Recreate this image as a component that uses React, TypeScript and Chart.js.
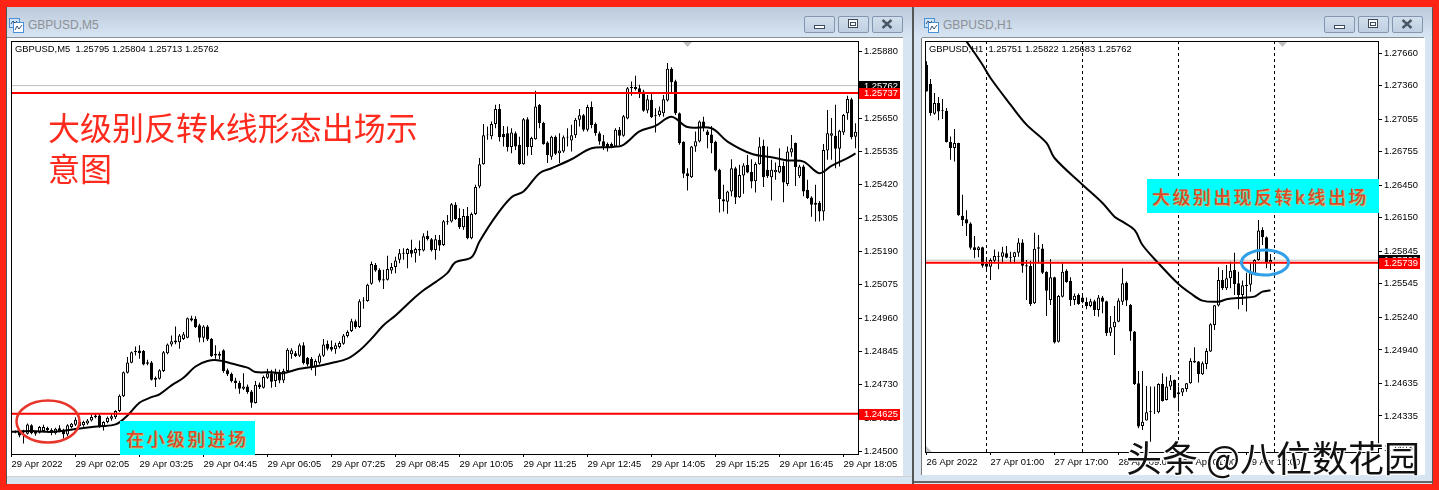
import React, { useEffect, useRef } from "react";
import { Chart, registerables } from "chart.js";

Chart.register(...registerables);

// Prices are quoted in points (1 point = 0.00001)
const m5Open = [
124570,124567,124567,124567,124561,124590,124569,124564,124570,124581,
124575,124563,124580,124575,124558,124584,124592,124588,124590,124596,
124607,124624,124624,124584,124601,124613,124618,124639,124690,124771,
124806,124842,124848,124846,124808,124807,124747,124751,124777,124839,
124869,124876,124877,124888,124892,124959,124958,124935,124892,124931,
124888,124837,124830,124849,124780,124768,124745,124737,124716,124724,
124707,124667,124731,124720,124754,124770,124743,124770,124745,124777,
124835,124839,124830,124866,124823,124820,124793,124806,124830,124871,
124860,124852,124860,124871,124898,124915,124949,124929,125018,125019,
125078,125143,125126,125090,125092,125124,125136,125161,125182,125181,
125195,125184,125193,125193,125244,125232,125195,125230,125212,125291,
125293,125351,125305,125273,125313,125235,125319,125414,125491,125591,
125587,125630,125681,125595,125598,125550,125598,125558,125491,125646,
125550,125577,125696,125633,125566,125517,125586,125529,125535,125583,
125573,125591,125644,125660,125610,125688,125630,125598,125570,125561,
125561,125552,125610,125589,125649,125753,125750,125753,125742,125676,
125713,125660,125661,125667,125711,125820,125777,125667,125568,125460,
125446,125552,125569,125638,125604,125593,125568,125472,125370,125361,
125397,125477,125377,125452,125489,125465,125432,125491,125554,125472,
125446,125463,125462,125485,125423,125531,125564,125449,125483,125402,
125376,125358,125358,125328,125538,125589,125589,125544,125600,125667,
125715,125586];
const m5High = [
124572,124572,124570,124575,124596,124594,124572,124588,124592,124585,
124580,124582,124590,124578,124594,124598,124618,124605,124606,124612,
124626,124632,124632,124604,124620,124630,124642,124696,124776,124826,
124845,124862,124866,124850,124816,124812,124758,124783,124846,124872,
124900,124931,124905,124912,124962,124968,124966,124940,124935,124936,
124891,124866,124845,124852,124786,124772,124754,124744,124770,124731,
124712,124743,124738,124762,124785,124782,124785,124782,124785,124856,
124856,124846,124872,124877,124826,124826,124818,124838,124888,124883,
124883,124875,124880,124905,124918,124958,124955,125025,125032,125078,
125155,125150,125132,125127,125175,125150,125172,125198,125201,125201,
125230,125203,125228,125253,125261,125236,125247,125247,125298,125316,
125357,125360,125339,125336,125343,125324,125420,125512,125630,125621,
125638,125696,125699,125623,125621,125615,125604,125586,125650,125653,
125586,125744,125699,125637,125570,125589,125590,125598,125590,125615,
125627,125650,125681,125664,125696,125707,125635,125604,125592,125566,
125566,125615,125619,125661,125757,125776,125796,125765,125748,125730,
125734,125684,125690,125730,125840,125825,125782,125669,125570,125477,
125554,125604,125642,125655,125610,125623,125572,125475,125420,125399,
125508,125482,125489,125494,125523,125508,125498,125584,125575,125552,
125506,125497,125546,125500,125552,125592,125566,125489,125489,125437,
125380,125420,125364,125561,125678,125650,125696,125610,125664,125727,
125720,125632];
const m5Low = [
124564,124563,124549,124527,124558,124559,124554,124562,124566,124569,
124556,124558,124566,124544,124552,124580,124588,124584,124585,124592,
124603,124614,124582,124572,124597,124606,124612,124636,124688,124769,
124804,124831,124820,124797,124797,124745,124722,124748,124774,124835,
124862,124870,124854,124884,124890,124948,124926,124877,124877,124881,
124826,124820,124818,124771,124760,124738,124716,124699,124712,124699,
124651,124665,124715,124717,124750,124720,124722,124735,124736,124772,
124820,124826,124826,124800,124793,124780,124761,124800,124826,124848,
124845,124837,124855,124868,124893,124912,124923,124926,124992,125016,
125075,125120,125084,125060,125090,125113,125115,125149,125161,125132,
125170,125152,125175,125190,125228,125190,125161,125192,125209,125282,
125290,125298,125267,125265,125232,125232,125316,125408,125489,125575,
125577,125615,125569,125552,125535,125529,125540,125488,125489,125520,
125523,125575,125615,125558,125495,125506,125523,125495,125530,125552,
125535,125581,125621,125604,125604,125615,125589,125558,125540,125535,
125546,125550,125557,125586,125646,125727,125745,125719,125672,125667,
125650,125600,125655,125655,125707,125736,125661,125558,125443,125400,
125443,125534,125566,125604,125546,125529,125466,125324,125328,125320,
125380,125354,125374,125389,125460,125408,125393,125489,125412,125443,
125366,125437,125460,125360,125416,125517,125416,125443,125380,125371,
125310,125293,125293,125297,125506,125506,125477,125483,125592,125644,
125577,125546];
const m5Close = [
124567,124568,124555,124572,124593,124563,124561,124584,124584,124573,
124564,124578,124570,124559,124590,124595,124609,124601,124601,124607,
124619,124618,124586,124601,124616,124621,124639,124692,124773,124807,
124842,124846,124839,124800,124802,124747,124754,124780,124842,124869,
124880,124883,124900,124904,124959,124952,124929,124892,124931,124886,
124829,124831,124837,124777,124766,124743,124736,124716,124724,124705,
124668,124730,124721,124757,124770,124740,124770,124745,124777,124851,
124849,124829,124866,124805,124800,124789,124812,124831,124869,124854,
124851,124866,124874,124900,124912,124949,124929,125018,125021,125075,
125147,125124,125090,125094,125129,125136,125159,125184,125185,125198,
125182,125198,125198,125242,125232,125195,125232,125210,125294,125294,
125353,125301,125273,125312,125235,125319,125412,125491,125591,125593,
125630,125681,125584,125584,125550,125600,125552,125491,125646,125550,
125581,125690,125633,125561,125523,125586,125527,125538,125584,125586,
125591,125644,125660,125610,125688,125626,125598,125569,125552,125550,
125552,125610,125589,125656,125753,125757,125757,125738,125675,125715,
125653,125656,125676,125715,125820,125774,125667,125563,125458,125449,
125552,125570,125638,125615,125592,125563,125469,125371,125362,125397,
125477,125376,125454,125486,125462,125431,125492,125552,125446,125449,
125472,125472,125485,125428,125535,125546,125481,125483,125397,125374,
125351,125351,125328,125540,125598,125598,125544,125606,125661,125716,
125584,125603];
const m5MaBars = [0,5,10,14,18,22,26,29,32,35,37,40,43,46,49,52,55,59,61,65,68,72,76,80,84,87,90,93,96,100,103,106,109,111,115,117,121,125,128,132,135,140,145,150,153,157,161,165,169,175,179,185,190,194,198,202,205,209,211];
const m5MaValues = [124568,124570,124567,124573,124581,124587,124593,124624,124668,124687,124697,124728,124754,124793,124812,124814,124803,124789,124774,124773,124770,124785,124793,124805,124820,124848,124889,124935,124969,125021,125056,125084,125116,125153,125170,125224,125310,125377,125397,125460,125477,125508,125546,125550,125558,125604,125623,125655,125619,125615,125569,125527,125515,125504,125500,125460,125485,125512,125528];
const m5TickBars = [0,16,32,48,64,80,96,112,128,144,160,176,192,208];
const m5TickLabels = ["29 Apr 2022","29 Apr 02:05","29 Apr 03:25","29 Apr 04:45","29 Apr 06:05","29 Apr 07:25","29 Apr 08:45","29 Apr 10:05","29 Apr 11:25","29 Apr 12:45","29 Apr 14:05","29 Apr 15:25","29 Apr 16:45","29 Apr 18:05"];
const m5PriceTicks = [1.2588,1.2565,1.25535,1.2542,1.25305,1.2519,1.25075,1.2496,1.24845,1.2473,1.24615,1.245];
const m5Levels = [1.25737,1.2463];
const m5LevelLabels = ["1.25737","1.24625"];
const m5LastPrice = 1.25762;

const h1Open = [
127553,127379,127104,127202,127135,127131,126844,126789,126835,126170,
126136,126099,125880,125855,125880,125727,125702,125757,125794,125794,
125825,125788,125788,125831,125925,125715,125709,125367,125880,125870,
125654,125397,125605,125015,125428,125666,125571,125397,125443,125421,
125379,125342,125385,125306,125421,125385,125098,125147,125199,125382,
125556,125352,125108,124634,124244,124293,124372,124375,124369,124628,
124482,124604,124665,124534,124549,124583,124634,124824,124833,124717,
124811,124925,125169,125346,125581,125505,125596,125672,125550,125443,
125526,125538,125636,125764,126039,125972,125740];
const h1High = [
127584,127421,127293,127256,127238,127156,126896,126963,126838,126362,
126219,126110,125983,125890,125885,125788,125779,125861,125840,125886,
125892,125840,125840,125962,125953,125763,125757,126014,125992,125910,
125660,125770,125610,125443,125733,125678,125605,125458,125458,125434,
125421,125409,125400,125443,125434,125390,125251,125343,125413,125688,
125566,125360,125114,124747,124747,124610,124604,124604,124634,124726,
124695,124711,124670,124604,124592,124638,124863,124964,124838,124833,
124955,125184,125352,125697,125672,125718,125749,125831,125657,125575,
125648,125733,125770,126130,126063,125978,125819];
const h1Low = [
127308,127086,127095,127043,127055,126841,126683,126667,126170,126075,
125983,125861,125779,125788,125693,125657,125580,125733,125678,125733,
125779,125733,125733,125794,125647,125397,125342,125360,125733,125635,
125251,125351,125000,125009,125421,125556,125342,125351,125354,125367,
125312,125330,125251,125245,125275,125067,125067,124894,125193,125352,
125343,125025,124619,124222,124207,124293,124100,124354,124360,124467,
124476,124573,124497,124375,124518,124558,124630,124822,124641,124711,
124763,124920,125123,125337,125489,125489,125505,125443,125312,125352,
125291,125474,125627,125758,125901,125688,125672];
const h1Close = [
127308,127110,127202,127125,127128,126844,126789,126835,126173,126130,
126099,125876,125855,125880,125712,125702,125763,125800,125800,125834,
125785,125782,125834,125925,125712,125705,125360,125867,125867,125647,
125483,125605,125009,125434,125657,125562,125397,125437,125360,125379,
125342,125385,125306,125421,125382,125092,125147,125199,125392,125550,
125392,125108,124628,124238,124283,124369,124378,124378,124628,124473,
124604,124659,124503,124552,124589,124634,124839,124842,124717,124818,
124931,125175,125349,125581,125505,125596,125666,125544,125443,125532,
125538,125642,125764,126033,125972,125734,125764];
const h1MaBars = [10,14,16,21,25,30,32,39,44,47,49,52,54,58,63,66,69,73,75,79,82,84,86];
const h1MaValues = [127767,127553,127431,127187,127004,126836,126698,126454,126286,126160,126115,126039,125901,125734,125544,125459,125392,125382,125404,125419,125428,125474,125486];
const h1DayBars = [15,39,63,87];
const h1TickBars = [0,16,32,48,64,80];
const h1TickLabels = ["26 Apr 2022","27 Apr 01:00","27 Apr 17:00","28 Apr 09:00","29 Apr 01:00","29 Apr 17:00"];
const h1PriceTicks = [1.2766,1.2736,1.27055,1.26755,1.2645,1.2615,1.25845,1.25545,1.2524,1.2494,1.24635,1.24335,1.24035];
const h1Levels = [1.25739];
const h1LevelLabels = ["1.25739"];
const h1LastPrice = 1.25762;

const AXIS_FONT = { family: "'Liberation Sans'", size: 9.4 };
const FONT_CSS = "9.4px 'Liberation Sans'";
const RED = "#ff0000";
const pts = (a: number) => a / 1e5;

type Cfg = {
  o: number[]; h: number[]; l: number[]; c: number[];
  maBars: number[]; maValues: number[];
  tickBars: number[]; tickLabels: string[]; priceTicks: number[];
  levels: number[]; levelLabels: string[]; last: number; days?: number[];
  xMin: number; xMax: number; yMin: number; yMax: number;
  padLeft: number; axisW: number; axisH: number;
  legend: string; markerBar: number; corner?: boolean;
};

function makeChart(canvas: HTMLCanvasElement, cfg: Cfg) {
  const hLine = (p: number, color: string, width: number, order: number) => ({
    type: "line",
    data: [{ x: cfg.xMin, y: p }, { x: cfg.xMax, y: p }],
    borderColor: color, borderWidth: width, pointRadius: 0, order,
  });
  const datasets: any[] = [
    ...(cfg.days || []).map((d) => ({
      type: "line",
      data: [{ x: d, y: cfg.yMin }, { x: d, y: cfg.yMax }],
      borderColor: "#000", borderWidth: 1, borderDash: [3, 3], pointRadius: 0, order: 5,
    })),
    hLine(cfg.last, "#bdbdbd", 1, 4),
    {
      type: "bar",
      data: cfg.l.map((low, i) => ({ x: i, y: [pts(low), pts(cfg.h[i])] })),
      backgroundColor: "#000", borderWidth: 0, barThickness: 1, grouped: false, inflateAmount: 0, order: 3,
    },
    {
      type: "bar",
      data: cfg.o.map((op, i) => ({ x: i, y: [pts(op), pts(cfg.c[i])] })),
      backgroundColor: cfg.o.map((op, i) => (cfg.c[i] >= op ? "#fff" : "#000")),
      borderColor: "#000", borderWidth: 1, borderSkipped: false, barThickness: 3, grouped: false, inflateAmount: 0, order: 2,
    },
    {
      type: "line",
      data: cfg.maBars.map((b, i) => ({ x: b, y: pts(cfg.maValues[i]) })),
      borderColor: "#000", borderWidth: 2, pointRadius: 0, tension: 0.35, order: 1,
    },
    ...cfg.levels.map((p) => hLine(p, RED, 2, 0)),
  ];

  const overlay = {
    id: "mt4Overlay",
    afterDraw(chart: any) {
      const { ctx, chartArea: a, scales } = chart;
      ctx.save();
      ctx.strokeStyle = "#000";
      ctx.lineWidth = 1;
      ctx.strokeRect(a.left + 0.5, a.top + 0.5, a.right - a.left, a.bottom - a.top);
      const mx = scales.x.getPixelForValue(cfg.markerBar);
      ctx.fillStyle = "#c0c0c0";
      ctx.beginPath();
      ctx.moveTo(mx - 4.5, a.top + 1);
      ctx.lineTo(mx + 4.5, a.top + 1);
      ctx.lineTo(mx, a.top + 6);
      ctx.fill();
      if (cfg.corner) {
        ctx.beginPath();
        ctx.moveTo(a.left + 1, a.bottom);
        ctx.lineTo(a.left + 7, a.bottom);
        ctx.lineTo(a.left + 1, a.bottom - 6);
        ctx.fill();
      }
      ctx.font = FONT_CSS;
      ctx.textBaseline = "middle";
      ctx.textAlign = "left";
      ctx.fillStyle = "#000";
      ctx.fillText(cfg.legend, a.left + 4, a.top + 8.5);
      const tag = (p: number, text: string, bg: string) => {
        const y = Math.round(scales.y.getPixelForValue(p));
        ctx.fillStyle = bg;
        ctx.fillRect(a.right + 1, y - 5, 41, 11);
        ctx.fillStyle = "#fff";
        ctx.fillText(text, a.right + 6, y + 0.5);
      };
      tag(cfg.last, cfg.last.toFixed(5), "#000");
      cfg.levels.forEach((p, i) => tag(p, cfg.levelLabels[i], RED));
      ctx.restore();
    },
  };

  return new Chart(canvas, {
    type: "bar",
    data: { datasets },
    plugins: [overlay],
    options: {
      animation: false,
      responsive: false,
      devicePixelRatio: 1,
      layout: { padding: { left: cfg.padLeft, top: 3, right: 0, bottom: 0 } },
      plugins: { legend: { display: false }, tooltip: { enabled: false } },
      scales: {
        x: {
          type: "linear", offset: false, min: cfg.xMin, max: cfg.xMax,
          afterBuildTicks: (s: any) => { s.ticks = cfg.tickBars.map((value) => ({ value })); },
          afterFit: (s: any) => { s.height = cfg.axisH; s.paddingLeft = 0; s.paddingRight = 0; },
          grid: { display: true, offset: false, drawOnChartArea: false, drawTicks: true, tickLength: 3, tickColor: "#000" },
          border: { color: "#000" },
          ticks: {
            autoSkip: false, maxRotation: 0, minRotation: 0, align: "start", padding: 2,
            color: "#000", font: AXIS_FONT,
            callback: (_v: any, i: number) => cfg.tickLabels[i],
          },
        },
        y: {
          type: "linear", position: "right", min: cfg.yMin, max: cfg.yMax,
          afterBuildTicks: (s: any) => { s.ticks = cfg.priceTicks.map((value) => ({ value })); },
          afterFit: (s: any) => { s.width = cfg.axisW; s.paddingTop = 0; s.paddingBottom = 0; },
          grid: { display: true, drawOnChartArea: false, drawTicks: true, tickLength: 4, tickColor: "#000" },
          border: { color: "#000" },
          ticks: {
            autoSkip: false, padding: 2, color: "#000", font: AXIS_FONT,
            callback: (v: any) => Number(v).toFixed(5),
          },
        },
      },
    } as any,
  } as any);
}

const Btn = ({ left, kind }: { left: number; kind: "min" | "max" | "close" }) => (
  <div style={{ position: "absolute", left, top: 16, width: 31, height: 17, boxSizing: "border-box", border: "1px solid #8497b0", borderRadius: 2, background: "linear-gradient(#d2deea,#bfcfe2)" }}>
    <svg width="29" height="15" style={{ display: "block" }}>
      {kind === "min" && <rect x="9.5" y="8.5" width="10" height="3" fill="#fff" stroke="#3c4a5c" />}
      {kind === "max" && <g><rect x="9.5" y="2.5" width="9" height="8" fill="#fff" stroke="#3c4a5c" /><rect x="11.5" y="5.5" width="5" height="3" fill="none" stroke="#3c4a5c" /></g>}
      {kind === "close" && <path d="M9.5 3 L18.5 11 M18.5 3 L9.5 11" stroke="#4a5868" strokeWidth="2.4" />}
    </svg>
  </div>
);

const Icon = ({ left }: { left: number }) => (
  <svg width="15" height="15" style={{ position: "absolute", left, top: 18 }}>
    <rect x="0.5" y="0.5" width="10" height="9" fill="#cfe3f7" stroke="#4a90d9" />
    <rect x="4.5" y="4.5" width="10" height="10" fill="#fff" stroke="#4a90d9" />
    <path d="M6 12 L8 8 L10 11 L13 7" fill="none" stroke="#33557a" />
    <path d="M2 6 L4 3 L6 5 L8 3" fill="none" stroke="#33557a" />
  </svg>
);

const abs = (left: number, top: number, width: number, height: number, extra: any = {}) => ({ position: "absolute", left, top, width, height, ...extra } as React.CSSProperties);
const TITLE = "linear-gradient(#bbc9db,#d7e5f3)";
const CJK = "'Noto Sans CJK SC'";
const labelText: React.CSSProperties = { color: "#dc4a2a", fontFamily: CJK, fontWeight: 500, fontSize: 18, letterSpacing: 2.4, whiteSpace: "nowrap", textShadow: "1px 1px 1px #d8c070", lineHeight: "34px" };

export default function App() {
  const leftRef = useRef<HTMLCanvasElement>(null);
  const rightRef = useRef<HTMLCanvasElement>(null);
  useEffect(() => {
    const m5 = makeChart(leftRef.current!, {
      o: m5Open, h: m5High, l: m5Low, c: m5Close, maBars: m5MaBars, maValues: m5MaValues,
      tickBars: m5TickBars, tickLabels: m5TickLabels, priceTicks: m5PriceTicks,
      levels: m5Levels, levelLabels: m5LevelLabels, last: m5LastPrice,
      xMin: -0.125, xMax: 211.625, yMin: 1.24491, yMax: 1.25916,
      padLeft: 4, axisW: 45, axisH: 22,
      legend: "GBPUSD,M5  1.25795 1.25804 1.25713 1.25762", markerBar: 169,
    });
    const h1 = makeChart(rightRef.current!, {
      o: h1Open, h: h1High, l: h1Low, c: h1Close, maBars: h1MaBars, maValues: h1MaValues,
      tickBars: h1TickBars, tickLabels: h1TickLabels, priceTicks: h1PriceTicks,
      levels: h1Levels, levelLabels: h1LevelLabels, last: h1LastPrice, days: h1DayBars,
      xMin: -0.375, xMax: 112.875, yMin: 1.24005, yMax: 1.2777,
      padLeft: 4, axisW: 47, axisH: 23,
      legend: "GBPUSD,H1  1.25751 1.25822 1.25683 1.25762", markerBar: 89, corner: true,
    });
    return () => { m5.destroy(); h1.destroy(); };
  }, []);

  return (
    <div style={abs(0, 0, 1439, 490, { background: "#ff2415", overflow: "hidden" })}>
      <style>{"html,body{margin:0;padding:0;overflow:hidden}"}</style>

      {/* left window */}
      <div style={abs(6, 7, 907, 477, { background: "#d7e4f2", borderLeft: "1px solid #555", boxSizing: "border-box" })} />
      <div style={abs(7, 7, 905, 30, { background: TITLE })} />
      <div style={abs(7, 37, 896, 1, { background: "#8a8f96" })} />
      <div style={abs(7, 38, 896, 438, { background: "#fff" })} />
      <div style={abs(7, 476, 905, 1, { background: "#d0d0d0" })} />
      <Icon left={9} />
      <div style={{ ...abs(28, 16, 100, 18), color: "#8d9196", font: "12px/18px 'Liberation Sans'" }}>GBPUSD,M5</div>
      <Btn left={804} kind="min" />
      <Btn left={838} kind="max" />
      <Btn left={872} kind="close" />
      <canvas ref={leftRef} width={896} height={438} style={abs(7, 38, 896, 438, { display: "block" })} />

      {/* divider */}
      <div style={abs(912, 7, 2, 477, { background: "#555" })} />

      {/* right window */}
      <div style={abs(914, 7, 519, 477, { background: "#d7e4f2", borderRight: "1px solid #555", boxSizing: "border-box" })} />
      <div style={abs(914, 7, 518, 30, { background: TITLE })} />
      <div style={abs(922, 37, 502, 1, { background: "#8a8f96" })} />
      <div style={abs(921, 38, 504, 437, { background: "#fff", borderLeft: "1px solid #777", boxSizing: "border-box" })} />
      <div style={abs(914, 481, 518, 2, { background: "#666" })} />
      <Icon left={924} />
      <div style={{ ...abs(943, 16, 100, 18), color: "#8d9196", font: "12px/18px 'Liberation Sans'" }}>GBPUSD,H1</div>
      <Btn left={1324} kind="min" />
      <Btn left={1358} kind="max" />
      <Btn left={1392} kind="close" />
      <canvas ref={rightRef} width={504} height={437} style={abs(921, 38, 504, 437, { display: "block" })} />

      {/* annotations */}
      <div style={{ ...abs(48, 106, 400, 82), color: "#ff2a1e", fontFamily: CJK, fontSize: 32, lineHeight: "41px", whiteSpace: "nowrap" }}>
        大级别反转k线形态出场示<br />意图
      </div>
      <div style={abs(120, 421, 135, 34, { background: "#00ffff" })}>
        <div style={{ ...labelText, paddingLeft: 6 }}>在小级别进场</div>
      </div>
      <div style={abs(1147, 179, 232, 34, { background: "#00ffff" })}>
        <div style={{ ...labelText, paddingLeft: 5 }}>大级别出现反转k线出场</div>
      </div>
      <svg width={1439} height={490} style={abs(0, 0, 1439, 490, { pointerEvents: "none" })}>
        <ellipse cx={48} cy={421.5} rx={31.5} ry={21} fill="none" stroke="#e8352a" strokeWidth={2.5} />
        <ellipse cx={1265} cy={262.5} rx={23.5} ry={12.5} fill="none" stroke="#2f9fe8" strokeWidth={3} />
      </svg>
      <div style={{ ...abs(1126, 434, 310, 44), color: "#111", fontFamily: CJK, fontSize: 36, lineHeight: "44px", whiteSpace: "pre", textShadow: "1px 1px 0 #fff,-1px -1px 0 #fff,1px -1px 0 #fff,-1px 1px 0 #fff" }}>
        头条 @八位数花园
      </div>
    </div>
  );
}
